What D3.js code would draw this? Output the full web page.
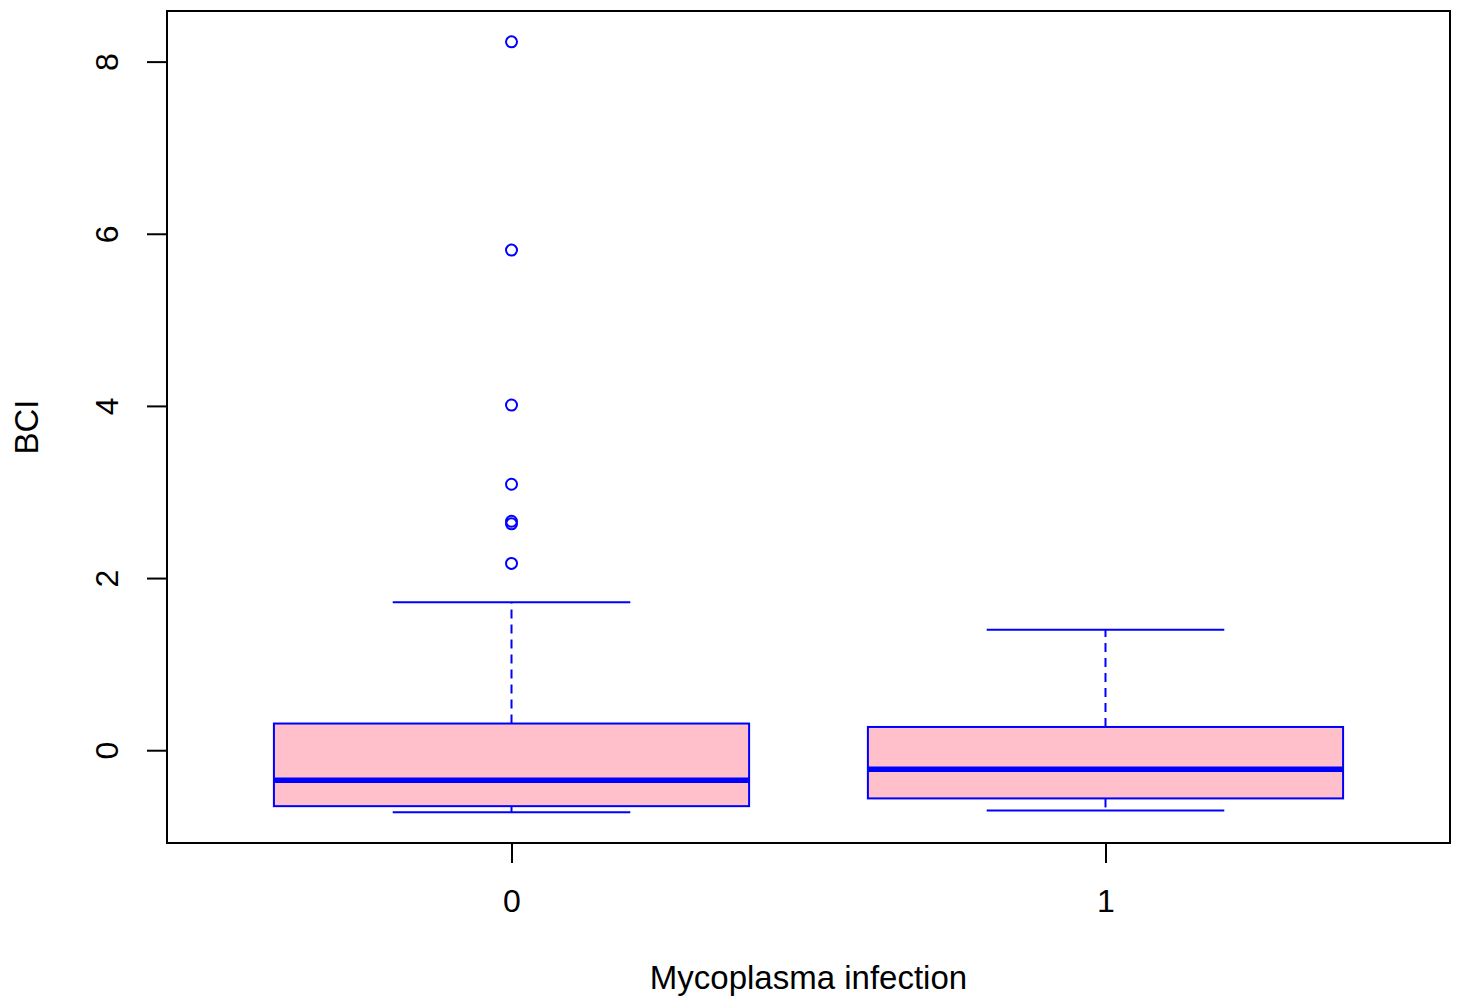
<!DOCTYPE html>
<html>
<head>
<meta charset="utf-8">
<script src="https://cdn.jsdelivr.net/npm/d3@7"></script>
<style>
  body { margin: 0; background: #fff; }
  text { font-family: "Liberation Sans", Arial, sans-serif; }
</style>
</head>
<body>
<div class="chart"></div>
<script>
var w = 1462;
var h = 1000;

// data
var groups = ["0", "1"];
var lowerWhisker = [-0.72, -0.70];
var q1 = [-0.65, -0.56];
var median = [-0.35, -0.22];
var q3 = [0.31, 0.27];
var upperWhisker = [1.72, 1.40];
var outliers0 = [8.23, 5.81, 4.01, 3.09, 2.66, 2.63, 2.17];
var outliers1 = [];
var yTicks = [0, 2, 4, 6, 8];

var outliers = [outliers0, outliers1];

var margin = { left: 167, right: 12, top: 11, bottom: 157 };

// R style: positions 1..n, xlim 0.5..n+0.5 extended by 4%
var xScale = d3.scaleLinear()
                .domain([0.42, 2.58])
                .range([margin.left, w - margin.right]);

var yScale = d3.scaleLinear()
                .domain([-1.078, 8.588])
                .range([h - margin.bottom, margin.top]);

var svg = d3.select(".chart")
            .append("svg")
            .attr("width", w)
            .attr("height", h);

var boxW = 0.4;   // half width of box
var capW = 0.2;   // half width of whisker cap

var boxes = svg.selectAll("g.box")
    .data(groups)
    .enter()
    .append("g")
    .attr("class", "box");

// whiskers (dashed)
boxes.append("line")
    .attr("x1", function (d, i) { return xScale(i + 1); })
    .attr("x2", function (d, i) { return xScale(i + 1); })
    .attr("y1", function (d, i) { return yScale(q3[i]); })
    .attr("y2", function (d, i) { return yScale(upperWhisker[i]); })
    .attr("stroke", "#0000ff")
    .attr("stroke-width", 2)
    .attr("stroke-dasharray", "9,6");

boxes.append("line")
    .attr("x1", function (d, i) { return xScale(i + 1); })
    .attr("x2", function (d, i) { return xScale(i + 1); })
    .attr("y1", function (d, i) { return yScale(q1[i]); })
    .attr("y2", function (d, i) { return yScale(lowerWhisker[i]); })
    .attr("stroke", "#0000ff")
    .attr("stroke-width", 2)
    .attr("stroke-dasharray", "9,6");

// caps
[upperWhisker, lowerWhisker].forEach(function (arr) {
    boxes.append("line")
        .attr("x1", function (d, i) { return xScale(i + 1 - capW); })
        .attr("x2", function (d, i) { return xScale(i + 1 + capW); })
        .attr("y1", function (d, i) { return yScale(arr[i]); })
        .attr("y2", function (d, i) { return yScale(arr[i]); })
        .attr("stroke", "#0000ff")
        .attr("stroke-width", 2);
});

// box
boxes.append("rect")
    .attr("x", function (d, i) { return xScale(i + 1 - boxW); })
    .attr("y", function (d, i) { return yScale(q3[i]); })
    .attr("width", function (d, i) { return xScale(i + 1 + boxW) - xScale(i + 1 - boxW); })
    .attr("height", function (d, i) { return yScale(q1[i]) - yScale(q3[i]); })
    .attr("fill", "#ffc0cb")
    .attr("stroke", "#0000ff")
    .attr("stroke-width", 2);

// median
boxes.append("line")
    .attr("x1", function (d, i) { return xScale(i + 1 - boxW); })
    .attr("x2", function (d, i) { return xScale(i + 1 + boxW); })
    .attr("y1", function (d, i) { return yScale(median[i]); })
    .attr("y2", function (d, i) { return yScale(median[i]); })
    .attr("stroke", "#0000ff")
    .attr("stroke-width", 5.5);

// outliers
boxes.each(function (d, i) {
    d3.select(this).selectAll("circle")
        .data(outliers[i])
        .enter()
        .append("circle")
        .attr("cx", xScale(i + 1))
        .attr("cy", function (v) { return yScale(v); })
        .attr("r", 5.5)
        .attr("fill", "none")
        .attr("stroke", "#0000ff")
        .attr("stroke-width", 2);
});

// frame
svg.append("rect")
    .attr("x", margin.left)
    .attr("y", margin.top)
    .attr("width", w - margin.right - margin.left)
    .attr("height", h - margin.bottom - margin.top)
    .attr("fill", "none")
    .attr("stroke", "#000")
    .attr("stroke-width", 2);

// y axis
var yAxis = svg.append("g")
    .attr("transform", "translate(" + margin.left + ",0)")
    .call(d3.axisLeft(yScale).tickValues(yTicks).tickSize(20).tickFormat(d3.format("d")));
yAxis.select(".domain").remove();
yAxis.selectAll(".tick line").attr("stroke", "#000").attr("stroke-width", 2);
yAxis.selectAll(".tick text")
    .attr("x", null).attr("dy", null)
    .attr("text-anchor", "middle")
    .attr("transform", "translate(-49,0) rotate(-90)")
    .attr("font-size", "32px")
    .attr("font-family", "Liberation Sans, Arial, sans-serif")
    .attr("fill", "#000");

// x axis
var xAxis = svg.append("g")
    .attr("transform", "translate(0," + (h - margin.bottom) + ")")
    .call(d3.axisBottom(xScale).tickValues([1, 2]).tickSize(20)
        .tickFormat(function (d) { return groups[d - 1]; }));
xAxis.select(".domain").remove();
xAxis.selectAll(".tick line").attr("stroke", "#000").attr("stroke-width", 2);
xAxis.selectAll(".tick text")
    .attr("y", 69).attr("dy", null)
    .attr("font-size", "32px")
    .attr("font-family", "Liberation Sans, Arial, sans-serif")
    .attr("fill", "#000");

// axis titles
svg.append("text")
    .text("Mycoplasma infection")
    .attr("x", (margin.left + w - margin.right) / 2)
    .attr("y", 989)
    .attr("text-anchor", "middle")
    .attr("font-size", "33px")
    .attr("fill", "#000");

svg.append("text")
    .text("BCI")
    .attr("transform", "translate(38," + ((margin.top + h - margin.bottom) / 2) + ") rotate(-90)")
    .attr("text-anchor", "middle")
    .attr("font-size", "33px")
    .attr("fill", "#000");
</script>
</body>
</html>
